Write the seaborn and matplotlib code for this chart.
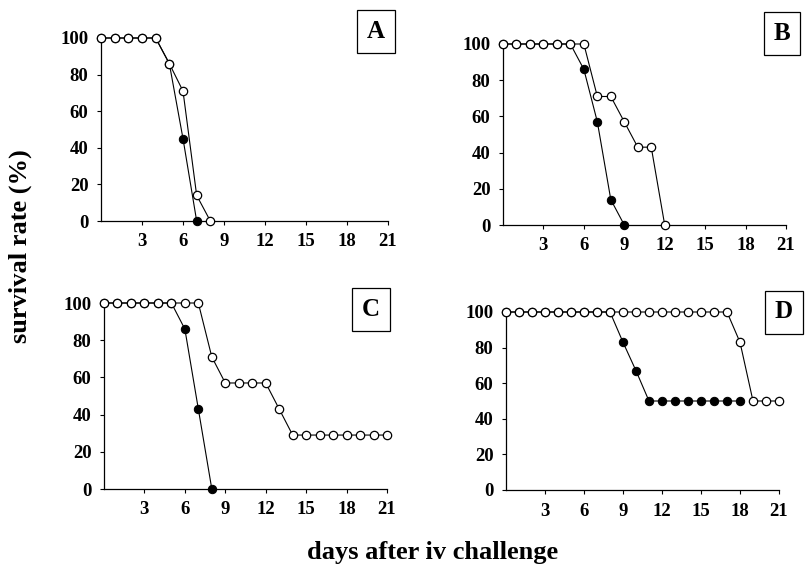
import seaborn as sns
import matplotlib.pyplot as plt
import pandas as pd

# survival data (days 0..21, % surviving)
days_a = list(range(0, 9))
open_a = [100, 100, 100, 100, 100, 86, 71, 14, 0]
days_a_f = list(range(0, 8))
filled_a = [100, 100, 100, 100, 100, 86, 45, 0]

days_b = list(range(0, 13))
open_b = [100, 100, 100, 100, 100, 100, 100, 71, 71, 57, 43, 43, 0]
days_b_f = list(range(0, 10))
filled_b = [100, 100, 100, 100, 100, 100, 86, 57, 14, 0]

days_c = list(range(0, 22))
open_c = [100, 100, 100, 100, 100, 100, 100, 100, 71, 57, 57, 57, 57, 43,
          29, 29, 29, 29, 29, 29, 29, 29]
days_c_f = list(range(0, 9))
filled_c = [100, 100, 100, 100, 100, 100, 86, 43, 0]

days_d = list(range(0, 22))
open_d = [100] * 18 + [83, 50, 50, 50]
days_d_f = list(range(0, 19))
filled_d = [100] * 9 + [83, 67] + [50] * 8

panel_labels = ["A", "B", "C", "D"]
x_ticks = [3, 6, 9, 12, 15, 18, 21]
y_ticks = [0, 20, 40, 60, 80, 100]

sns.set_style("ticks")
plt.rcParams['font.family'] = ['Liberation Serif', 'DejaVu Serif']
plt.rcParams['font.weight'] = 'bold'
plt.rcParams['text.color'] = 'black'
plt.rcParams['xtick.color'] = 'black'
plt.rcParams['ytick.color'] = 'black'

fig = plt.figure(figsize=(8.06, 5.75), dpi=100)
W, H = 806, 575

# axes boxes in pixels: (left, right, y of 100, y of 0)
boxes = [(101, 388, 38, 221), (503, 786, 44, 225),
         (104, 387, 303, 489), (506, 779, 312, 490)]
label_pos = [(376, 31), (782, 33), (371, 309), (784, 312)]

series = [
    (days_a, open_a, days_a_f, filled_a),
    (days_b, open_b, days_b_f, filled_b),
    (days_c, open_c, days_c_f, filled_c),
    (days_d, open_d, days_d_f, filled_d),
]

for (l, r, t, b), (dx, yo, dxf, yf), lab, (lx, ly) in zip(boxes, series, panel_labels, label_pos):
    ax = fig.add_axes([l / W, 1 - b / H, (r - l) / W, (b - t) / H])
    df_f = pd.DataFrame({"day": dxf, "surv": yf})
    df_o = pd.DataFrame({"day": dx, "surv": yo})
    sns.lineplot(data=df_f, x="day", y="surv", ax=ax, color="black", lw=0.8,
                 marker="o", markersize=6, markerfacecolor="black",
                 markeredgecolor="black", clip_on=False, zorder=3)
    sns.lineplot(data=df_o, x="day", y="surv", ax=ax, color="black", lw=0.8,
                 marker="o", markersize=6, markerfacecolor="white",
                 markeredgecolor="black", markeredgewidth=0.9,
                 clip_on=False, zorder=4)
    ax.set_xlim(0, 21)
    ax.set_ylim(0, 100)
    ax.set_xticks(x_ticks)
    ax.set_yticks(y_ticks)
    ax.set_xlabel("")
    ax.set_ylabel("")
    sns.despine(ax=ax)
    for s in ["left", "bottom"]:
        ax.spines[s].set_linewidth(0.9)
        ax.spines[s].set_color("black")
    ax.tick_params(axis="both", length=3, width=0.8, labelsize=13.5, pad=6,
                   colors="black")
    for tl in ax.get_xticklabels() + ax.get_yticklabels():
        tl.set_fontweight("bold")
    fig.text(lx / W, 1 - ly / H, lab, ha="center", va="center", fontsize=18,
             fontweight="bold",
             bbox=dict(boxstyle="square,pad=0.4", fc="white", ec="black", lw=0.9))

fig.text(20 / W, 1 - 246 / H, "survival rate (%)", rotation=90, ha="center",
         va="center", fontsize=19, fontweight="bold")
fig.text(433 / W, 1 - 552 / H, "days after iv challenge", ha="center",
         va="center", fontsize=19, fontweight="bold")

fig.savefig("out.png", dpi=100)
